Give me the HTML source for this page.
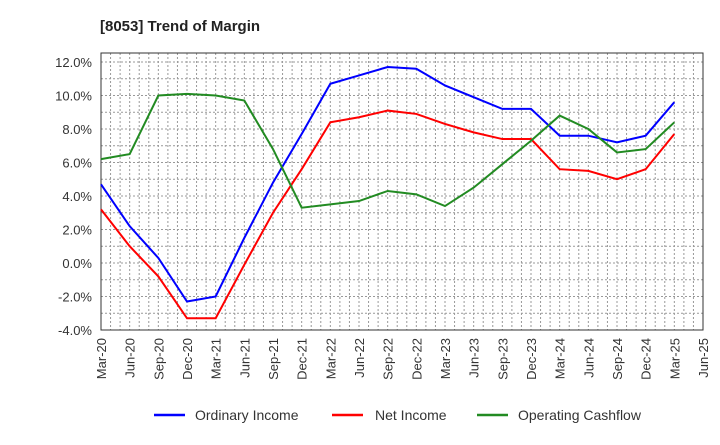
<!DOCTYPE html>
<html><head><meta charset="utf-8"><style>
body{margin:0;background:#fff;font-family:"Liberation Sans",Arial,sans-serif}
svg text{font-family:"Liberation Sans",Arial,sans-serif}
</style></head><body>
<svg id="c" width="720" height="440" xmlns="http://www.w3.org/2000/svg">
<text x="100" y="31" font-size="15" font-weight="bold" fill="#222">[8053]  Trend of Margin</text>
<g id="grid"></g><g id="axes"></g><g id="series"></g>
<g>
<line x1="154" y1="415" x2="185" y2="415" stroke="#0000ff" stroke-width="2.5"/>
<text x="195" y="420" font-size="14" fill="#333">Ordinary Income</text>
<line x1="332" y1="415" x2="363" y2="415" stroke="#ff0000" stroke-width="2.5"/>
<text x="375" y="420" font-size="14" fill="#333">Net Income</text>
<line x1="477" y1="415" x2="508" y2="415" stroke="#228b22" stroke-width="2.5"/>
<text x="518" y="420" font-size="14" fill="#333">Operating Cashflow</text>
</g>
</svg>
<script>
const categories=["Mar-20","Jun-20","Sep-20","Dec-20","Mar-21","Jun-21","Sep-21","Dec-21","Mar-22","Jun-22","Sep-22","Dec-22","Mar-23","Jun-23","Sep-23","Dec-23","Mar-24","Jun-24","Sep-24","Dec-24","Mar-25","Jun-25"];
const ordinaryIncome=[4.7,2.2,0.3,-2.3,-2.0,1.5,4.8,7.7,10.7,11.2,11.7,11.6,10.6,9.9,9.2,9.2,7.6,7.6,7.2,7.6,9.6];
const netIncome=[3.2,1.0,-0.8,-3.3,-3.3,-0.1,3.0,5.6,8.4,8.7,9.1,8.9,8.3,7.8,7.4,7.4,5.6,5.5,5.0,5.6,7.7];
const operatingCashflow=[6.2,6.5,10.0,10.1,10.0,9.7,6.8,3.3,3.5,3.7,4.3,4.1,3.4,4.5,5.9,7.3,8.8,8.0,6.6,6.8,8.4];
const yTicks=[-4,-2,0,2,4,6,8,10,12];
const NS="http://www.w3.org/2000/svg";
const L=101,R=703,T=53,B=330,yMin=-4,yMax=12,yTop=62;
const x=i=>L+(R-L)*i/(categories.length-1);
const y=v=>B-(B-yTop)*(v-yMin)/(yMax-yMin);
function mk(tag,attrs,parent){const e=document.createElementNS(NS,tag);for(const k in attrs)e.setAttribute(k,attrs[k]);document.getElementById(parent).appendChild(e);return e;}
for(let v=yMin;v<=yMax;v+=1){
 const g=mk("line",{x1:L,x2:R,y1:y(v),y2:y(v),stroke:"#999","stroke-dasharray":"2,2","stroke-width":1},"grid");
 
 
}
for(let m=1;m<(categories.length-1)*3;m++){
 const xx=L+(R-L)*m/((categories.length-1)*3);
 const g=mk("line",{x1:xx,x2:xx,y1:T,y2:B,stroke:"#999","stroke-dasharray":"2,2","stroke-width":1},"grid");
 
 
}
const box=mk("rect",{x:L,y:T,width:R-L,height:B-T,fill:"none",stroke:"#333","stroke-width":1},"axes");


yTicks.forEach(v=>{
 const t=mk("text",{x:L-9,y:y(v)+5,"font-size":13,"text-anchor":"end",fill:"#333"},"axes");
 t.textContent=v.toFixed(1)+"%";
 
 
});
categories.forEach((c,i)=>{
 const t=mk("text",{x:0,y:0,"font-size":13,"text-anchor":"end",fill:"#333",transform:`translate(${x(i)+5},${B+8}) rotate(-90)`},"axes");
 t.textContent=c;
 
 
});
[[ordinaryIncome,"#0000ff","ordinary-income-line"],[netIncome,"#ff0000","net-income-line"],[operatingCashflow,"#228b22","operating-cashflow-line"]].forEach(([d,col,name])=>{
 const p=mk("polyline",{points:d.map((v,i)=>x(i)+","+y(v)).join(" "),fill:"none",stroke:col,"stroke-width":2},"series");
 
 
});
</script>
</body></html>
